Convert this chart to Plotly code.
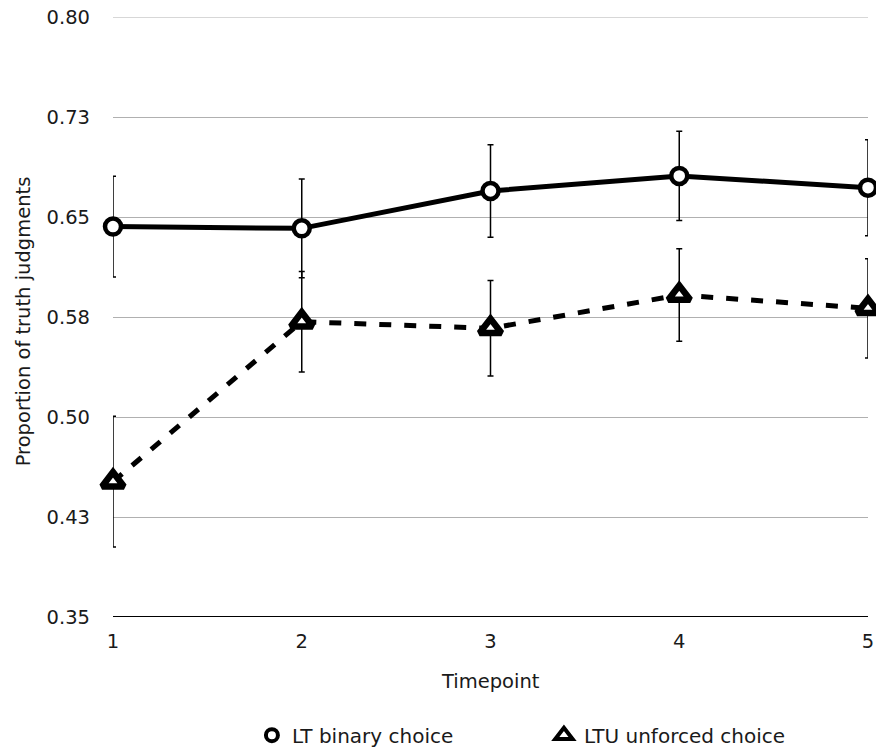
import plotly.graph_objects as go

timepoints = [1, 2, 3, 4, 5]
lt_binary = [0.6428, 0.6415, 0.6695, 0.6808, 0.6720]
lt_binary_err = [0.0378, 0.0370, 0.0347, 0.0335, 0.0360]
ltu_unforced = [0.4515, 0.5715, 0.5665, 0.5915, 0.5815]
ltu_unforced_err = [0.0490, 0.0377, 0.0358, 0.0346, 0.0372]
ytick_vals = [0.35, 0.425, 0.50, 0.575, 0.65, 0.725, 0.80]
ytick_text = ["0.35", "0.43", "0.50", "0.58", "0.65", "0.73", "0.80"]
series_names = ["LT binary choice", "LTU unforced choice"]

FONT = "DejaVu Sans, Verdana, sans-serif"
TXT = "#1a1a1a"
FS = 19.5

fig = go.Figure()

fig.add_trace(go.Scatter(
    x=timepoints, y=ltu_unforced, mode="lines+markers", showlegend=False,
    line=dict(color="black", width=5, dash="12px,13px"),
    marker=dict(symbol="triangle-up", size=19, color="white",
                line=dict(color="black", width=6.5)),
    error_y=dict(type="data", array=ltu_unforced_err, visible=True,
                 color="black", thickness=1.5, width=3),
    cliponaxis=False,
))
fig.add_trace(go.Scatter(
    x=timepoints, y=lt_binary, mode="lines+markers", showlegend=False,
    line=dict(color="black", width=5),
    marker=dict(symbol="circle", size=16, color="white",
                line=dict(color="black", width=4.5)),
    error_y=dict(type="data", array=lt_binary_err, visible=True,
                 color="black", thickness=1.5, width=3),
    cliponaxis=False,
))

# legend-only entries (markers only)
fig.add_trace(go.Scatter(
    x=[None], y=[None], mode="markers", name=series_names[0],
    marker=dict(symbol="circle", size=12, color="white",
                line=dict(color="black", width=4)),
))
fig.add_trace(go.Scatter(
    x=[None], y=[None], mode="markers", name=series_names[1],
    marker=dict(symbol="triangle-up", size=15, color="white",
                line=dict(color="black", width=4)),
))

fig.update_layout(
    width=876, height=751,
    margin=dict(l=113, r=8, t=17, b=134, autoexpand=False),
    paper_bgcolor="white", plot_bgcolor="white",
    font=dict(family=FONT, size=FS, color=TXT),
    showlegend=True,
    hovermode=False,
    legend=dict(orientation="h", x=0.184, xanchor="left", y=-0.197,
                yanchor="middle", font=dict(size=20, color=TXT),
                entrywidth=247, entrywidthmode="pixels",
                bgcolor="rgba(0,0,0,0)"),
    annotations=[
        dict(text="Timepoint", xref="paper", yref="paper", x=0.5, y=-0.1067,
             xanchor="center", yanchor="middle", showarrow=False,
             font=dict(size=FS, color=TXT)),
        dict(text="Proportion of truth judgments", xref="paper", yref="paper",
             x=-0.119, y=0.493, xanchor="center", yanchor="middle",
             textangle=-90, showarrow=False, font=dict(size=FS, color=TXT)),
    ],
)

fig.update_xaxes(
    range=[1, 5], tickvals=timepoints, ticktext=[str(t) for t in timepoints],
    showgrid=False, zeroline=False, showline=False, automargin=False,
    ticks="", ticklabelstandoff=10, ticklabeloverflow="allow",
    tickfont=dict(size=FS, color=TXT),
)
fig.update_yaxes(
    range=[0.35, 0.80], tickvals=ytick_vals, ticktext=ytick_text,
    showgrid=True, gridcolor="#b0b0b0", gridwidth=1,
    zeroline=False, showline=False, ticks="", automargin=False,
    ticklabelstandoff=22, ticklabeloverflow="allow",
    tickfont=dict(size=FS, color=TXT),
)

# top gridline (edge gridlines are dropped by plotly) and dark baseline
fig.add_shape(type="line", xref="paper", yref="y", x0=0, x1=1,
              y0=ytick_vals[-1], y1=ytick_vals[-1],
              line=dict(color="#b0b0b0", width=1), layer="below")
fig.add_shape(type="line", xref="paper", yref="y", x0=0, x1=1,
              y0=ytick_vals[0], y1=ytick_vals[0],
              line=dict(color="black", width=2), layer="below")

fig.write_html(
    "out.html",
    config={"displayModeBar": False, "staticPlot": True},
    post_script="document.body.style.margin='0';document.body.style.overflow='hidden';",
)
